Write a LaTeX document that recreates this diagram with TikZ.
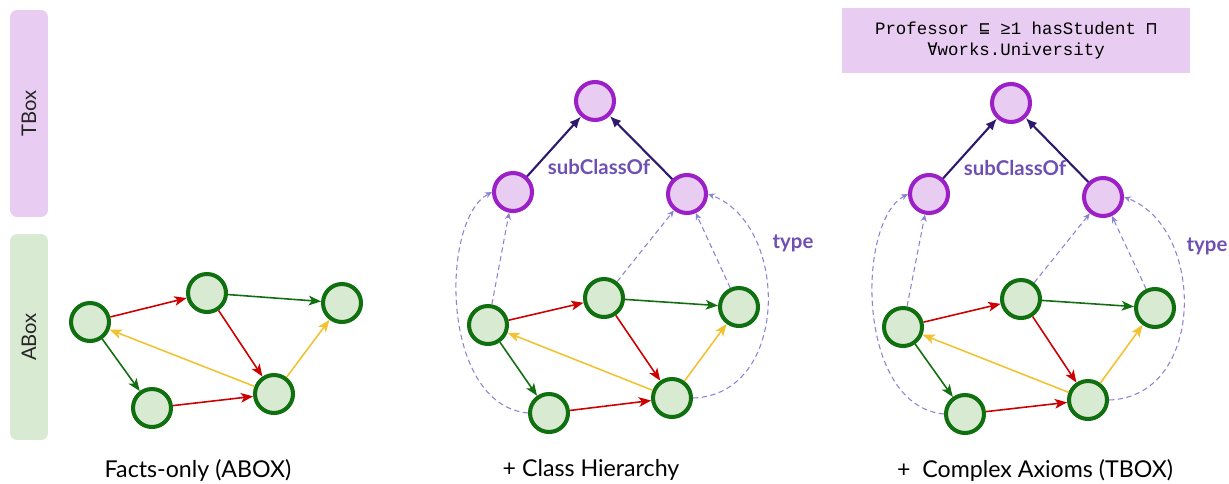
\documentclass[tikz,border=0pt]{standalone}
\usepackage{fontspec}
\setmainfont{Lato}
\newfontfamily\axfont{Liberation Mono}
\newfontfamily\axsym{DejaVu Sans Mono}
\usepackage{tikz}
\usetikzlibrary{arrows.meta,positioning}

\definecolor{gfill}{RGB}{217,234,211}
\definecolor{gline}{RGB}{16,112,16}
\definecolor{pfill}{RGB}{233,204,241}
\definecolor{pline}{RGB}{155,32,200}
\definecolor{navy}{RGB}{45,25,110}
\definecolor{dashc}{RGB}{140,130,210}
\definecolor{redc}{RGB}{204,0,0}
\definecolor{yelc}{RGB}{241,194,50}
\definecolor{labc}{RGB}{110,80,180}

\begin{document}
\begin{tikzpicture}[
    x=0.02cm, y=-0.02cm,
    bar/.style={rectangle, rounded corners=4pt, rotate=90, minimum height=0.76cm, font=\fontsize{11.5}{13}\selectfont, text=black!85},
    ent/.style={circle, draw=gline, fill=gfill, line width=2.3pt, minimum size=0.76cm, inner sep=0pt},
    cls/.style={circle, draw=pline, fill=pfill, line width=2.3pt, minimum size=0.76cm, inner sep=0pt},
    rel/.style={-{Stealth[length=7pt, width=5.5pt, inset=1.8pt]}, line width=0.9pt},
    sub/.style={-{Latex[length=6.5pt, width=5.5pt]}, line width=1.2pt, draw=navy},
    typ/.style={-{Stealth[length=4pt, width=3.5pt]}, line width=0.6pt, draw=dashc, dash pattern=on 3pt off 2pt},
    lab/.style={font=\bfseries\fontsize{11.6}{13}\selectfont, text=labc},
    caption/.style={font=\fontsize{13.2}{15}\selectfont, text=black}
]
    \useasboundingbox (0,0) rectangle (1229,483);

    % side bars
    \node [bar, fill=pfill, minimum width=4.14cm] (tbox) at (29,113.5) {TBox};
    \node [bar, fill=gfill, minimum width=4.12cm] (abox) at (29,337) {ABox};

    % facts only
    \node [ent] (la) at (90,322) {};
    \node [ent] (lb) at (207,293) {};
    \node [ent] (lc) at (342,303) {};
    \node [ent] (ld) at (152,408) {};
    \node [ent] (le) at (274,394) {};

    \draw [rel, redc] (la) -- (lb);
    \draw [rel, gline] (lb) -- (lc);
    \draw [rel, redc] (lb) -- (le);
    \draw [rel, gline] (la) -- (ld);
    \draw [rel, redc] (ld) -- (le);
    \draw [rel, yelc] (le) -- (la);
    \draw [rel, yelc] (le) -- (lc);

    \node [caption] (lcap) at (198,470) {Facts-only (ABOX)};

    % class hierarchy
    \node [cls] (mt) at (595,101) {};
    \node [cls] (ml) at (513,192) {};
    \node [cls] (mr) at (687,194) {};
    \node [ent] (ma) at (488,325) {};
    \node [ent] (mb) at (604,298) {};
    \node [ent] (mc) at (739,307) {};
    \node [ent] (md) at (549,413) {};
    \node [ent] (me) at (672,398) {};

    \draw [sub] (ml) -- (mt);
    \draw [sub] (mr) -- (mt);
    \node [lab] (msub) at (599,167) {subClassOf};

    \draw [typ] (ma) -- (ml);
    \draw [typ] (md.west) .. controls (440,405) and (440,220) .. (ml.west);
    \draw [typ] (mb) -- (mr);
    \draw [typ] (mc) -- (mr);
    \draw [typ] (me.east) .. controls (790,395) and (790,225) .. (mr.east);
    \node [lab] (mtyp) at (793,243) {type};

    \draw [rel, redc] (ma) -- (mb);
    \draw [rel, gline] (mb) -- (mc);
    \draw [rel, redc] (mb) -- (me);
    \draw [rel, gline] (ma) -- (md);
    \draw [rel, redc] (md) -- (me);
    \draw [rel, yelc] (me) -- (ma);
    \draw [rel, yelc] (me) -- (mc);

    \node [caption] (mcap) at (591,470) {+ Class Hierarchy};

    % complex axioms
    \node [rectangle, fill=pfill, minimum width=6.96cm, minimum height=1.3cm, align=center,
           font=\axfont\fontsize{9.9}{12.5}\selectfont] (axiom) at (1016,40.5)
        {Professor {\axsym ⊑} ≥1 hasStudent {\axsym ⊓}\\{\axsym ∀}works.University};

    \node [cls] (rt) at (1011,103) {};
    \node [cls] (rl) at (929,194) {};
    \node [cls] (rr) at (1103,197) {};
    \node [ent] (ra) at (903,327) {};
    \node [ent] (rb) at (1021,299) {};
    \node [ent] (rc) at (1155,308) {};
    \node [ent] (rd) at (965,414) {};
    \node [ent] (re) at (1088,400) {};

    \draw [sub] (rl) -- (rt);
    \draw [sub] (rr) -- (rt);
    \node [lab] (rsub) at (1015,168) {subClassOf};

    \draw [typ] (ra) -- (rl);
    \draw [typ] (rd.west) .. controls (856,406) and (856,222) .. (rl.west);
    \draw [typ] (rb) -- (rr);
    \draw [typ] (rc) -- (rr);
    \draw [typ] (re.east) .. controls (1206,397) and (1206,228) .. (rr.east);
    \node [lab] (rtyp) at (1207,246) {type};

    \draw [rel, redc] (ra) -- (rb);
    \draw [rel, gline] (rb) -- (rc);
    \draw [rel, redc] (rb) -- (re);
    \draw [rel, gline] (ra) -- (rd);
    \draw [rel, redc] (rd) -- (re);
    \draw [rel, yelc] (re) -- (ra);
    \draw [rel, yelc] (re) -- (rc);

    \node [caption] (rcap) at (1035,470) {+\ \ Complex Axioms (TBOX)};
\end{tikzpicture}
\end{document}
